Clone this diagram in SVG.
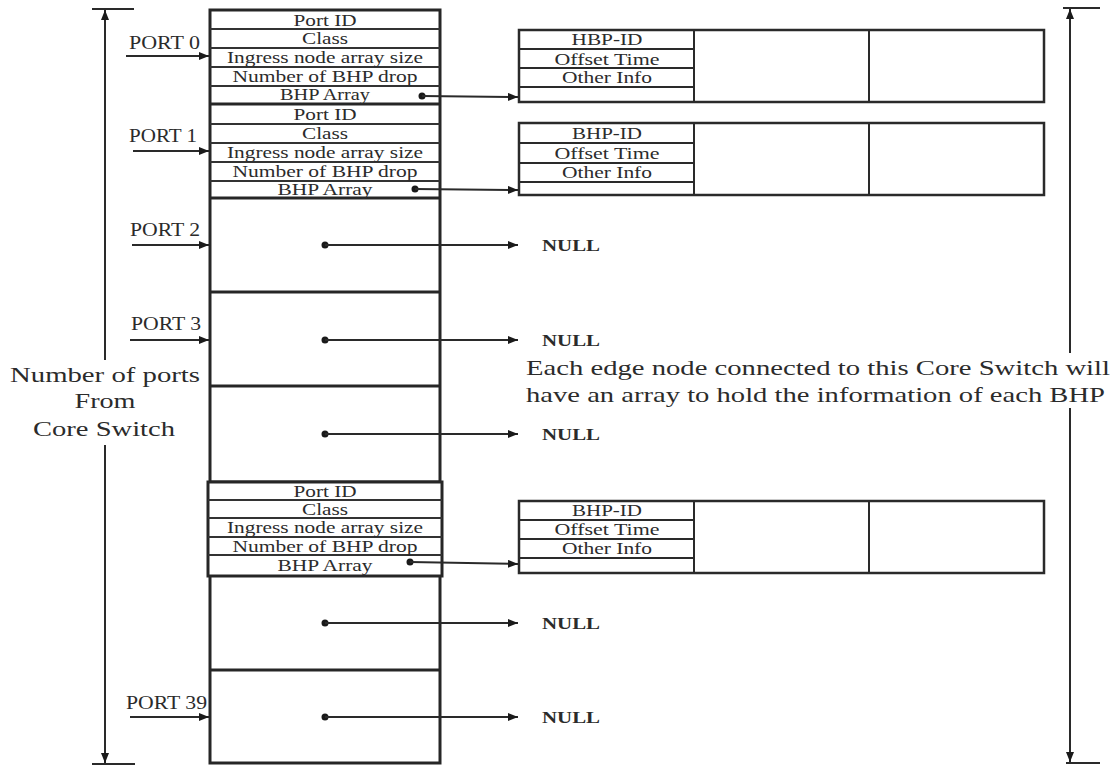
<svg xmlns="http://www.w3.org/2000/svg" width="1116" height="766" viewBox="0 0 1116 766">
<style>
.bg{fill:#ffffff}
.box{fill:#ffffff;stroke:#262626;stroke-width:3}
.rbox{fill:#ffffff;stroke:#2a2a2a;stroke-width:2.5}
.thick{stroke:#262626;stroke-width:3;fill:none}
.thin{stroke:#333333;stroke-width:1.8;fill:none}
.ln{stroke:#2a2a2a;stroke-width:2;fill:none}
.t{font-family:"Liberation Serif","Times New Roman",serif;fill:#2b2b2b}
.cell{font-size:17px;text-anchor:middle}
.port{font-size:18px}
.null{font-size:17px;font-weight:bold}
.big{font-size:22px}
.dot{fill:#1a1a1a}
</style>
<defs>
<marker id="ah" viewBox="0 0 10 8" refX="10" refY="4" markerWidth="10" markerHeight="8" orient="auto-start-reverse" markerUnits="userSpaceOnUse">
<path d="M0,0 L10,4 L0,8 z" fill="#1a1a1a"/>
</marker>
</defs>
<rect class="bg" x="0" y="0" width="1116" height="766"/>

<g id="port-table">
<rect class="box" x="210" y="10" width="230" height="753"/>
</g>

<g id="port0">
<line class="thin" x1="210" y1="29" x2="440" y2="29"/>
<line class="thin" x1="210" y1="48" x2="440" y2="48"/>
<line class="thin" x1="210" y1="67" x2="440" y2="67"/>
<line class="thin" x1="210" y1="86" x2="440" y2="86"/>
<line class="thick" x1="210" y1="104" x2="440" y2="104"/>
<text class="t cell" x="325" y="25.5" textLength="63" lengthAdjust="spacingAndGlyphs">Port ID</text>
<text class="t cell" x="325" y="44" textLength="46" lengthAdjust="spacingAndGlyphs">Class</text>
<text class="t cell" x="325" y="63" textLength="196" lengthAdjust="spacingAndGlyphs">Ingress node array size</text>
<text class="t cell" x="325" y="82" textLength="185" lengthAdjust="spacingAndGlyphs">Number of BHP drop</text>
<text class="t cell" x="325" y="100" textLength="90" lengthAdjust="spacingAndGlyphs">BHP Array</text>
<circle class="dot" cx="422" cy="96" r="3.5"/>
</g>

<g id="port1">
<line class="thin" x1="210" y1="124" x2="440" y2="124"/>
<line class="thin" x1="210" y1="143" x2="440" y2="143"/>
<line class="thin" x1="210" y1="162" x2="440" y2="162"/>
<line class="thin" x1="210" y1="181" x2="440" y2="181"/>
<line class="thick" x1="210" y1="198" x2="440" y2="198"/>
<text class="t cell" x="325" y="120" textLength="63" lengthAdjust="spacingAndGlyphs">Port ID</text>
<text class="t cell" x="325" y="139" textLength="46" lengthAdjust="spacingAndGlyphs">Class</text>
<text class="t cell" x="325" y="158" textLength="196" lengthAdjust="spacingAndGlyphs">Ingress node array size</text>
<text class="t cell" x="325" y="177" textLength="185" lengthAdjust="spacingAndGlyphs">Number of BHP drop</text>
<text class="t cell" x="325" y="195" textLength="95" lengthAdjust="spacingAndGlyphs">BHP Array</text>
<circle class="dot" cx="415" cy="189" r="3.5"/>
</g>

<g id="port2">
<line class="thick" x1="210" y1="292" x2="440" y2="292"/>
<circle class="dot" cx="325" cy="245" r="3.5"/>
</g>

<g id="port3">
<line class="thick" x1="210" y1="386" x2="440" y2="386"/>
<circle class="dot" cx="325" cy="340" r="3.5"/>
</g>

<g id="port4">
<line class="thick" x1="210" y1="482" x2="440" y2="482"/>
<circle class="dot" cx="325" cy="434" r="3.5"/>
</g>

<g id="port5">
<rect class="box" x="208" y="482" width="234" height="94"/>
<line class="thin" x1="208" y1="500" x2="442" y2="500"/>
<line class="thin" x1="208" y1="518" x2="442" y2="518"/>
<line class="thin" x1="208" y1="537" x2="442" y2="537"/>
<line class="thin" x1="208" y1="555" x2="442" y2="555"/>
<text class="t cell" x="325" y="497" textLength="63" lengthAdjust="spacingAndGlyphs">Port ID</text>
<text class="t cell" x="325" y="515" textLength="46" lengthAdjust="spacingAndGlyphs">Class</text>
<text class="t cell" x="325" y="533" textLength="196" lengthAdjust="spacingAndGlyphs">Ingress node array size</text>
<text class="t cell" x="325" y="552" textLength="185" lengthAdjust="spacingAndGlyphs">Number of BHP drop</text>
<text class="t cell" x="325" y="571" textLength="95" lengthAdjust="spacingAndGlyphs">BHP Array</text>
<circle class="dot" cx="410" cy="562" r="3.5"/>
</g>

<g id="port6">
<line class="thick" x1="210" y1="670" x2="440" y2="670"/>
<circle class="dot" cx="325" cy="623" r="3.5"/>
</g>

<g id="port39">
<circle class="dot" cx="325" cy="717" r="3.5"/>
</g>

<g id="bhp-array-0">
<rect class="rbox" x="519" y="30" width="525" height="72"/>
<line class="ln" x1="694" y1="30" x2="694" y2="102"/>
<line class="ln" x1="869" y1="30" x2="869" y2="102"/>
<line class="ln" x1="519" y1="49" x2="694" y2="49"/>
<line class="ln" x1="519" y1="68" x2="694" y2="68"/>
<line class="ln" x1="519" y1="87" x2="694" y2="87"/>
<text class="t cell" x="607" y="45" textLength="71" lengthAdjust="spacingAndGlyphs">HBP-ID</text>
<text class="t cell" x="607" y="64.5" textLength="105" lengthAdjust="spacingAndGlyphs">Offset Time</text>
<text class="t cell" x="607" y="83" textLength="90" lengthAdjust="spacingAndGlyphs">Other Info</text>
</g>

<g id="bhp-array-1">
<rect class="rbox" x="519" y="123" width="525" height="72"/>
<line class="ln" x1="694" y1="123" x2="694" y2="195"/>
<line class="ln" x1="869" y1="123" x2="869" y2="195"/>
<line class="ln" x1="519" y1="143" x2="694" y2="143"/>
<line class="ln" x1="519" y1="163" x2="694" y2="163"/>
<line class="ln" x1="519" y1="182" x2="694" y2="182"/>
<text class="t cell" x="607" y="139" textLength="70" lengthAdjust="spacingAndGlyphs">BHP-ID</text>
<text class="t cell" x="607" y="159" textLength="105" lengthAdjust="spacingAndGlyphs">Offset Time</text>
<text class="t cell" x="607" y="177.5" textLength="90" lengthAdjust="spacingAndGlyphs">Other Info</text>
</g>

<g id="bhp-array-2">
<rect class="rbox" x="519" y="501" width="525" height="72"/>
<line class="ln" x1="694" y1="501" x2="694" y2="573"/>
<line class="ln" x1="869" y1="501" x2="869" y2="573"/>
<line class="ln" x1="519" y1="520" x2="694" y2="520"/>
<line class="ln" x1="519" y1="539" x2="694" y2="539"/>
<line class="ln" x1="519" y1="558" x2="694" y2="558"/>
<text class="t cell" x="607" y="516" textLength="70" lengthAdjust="spacingAndGlyphs">BHP-ID</text>
<text class="t cell" x="607" y="535" textLength="105" lengthAdjust="spacingAndGlyphs">Offset Time</text>
<text class="t cell" x="607" y="554" textLength="90" lengthAdjust="spacingAndGlyphs">Other Info</text>
</g>

<g id="null-labels">
<text class="t null" x="542" y="251" textLength="58" lengthAdjust="spacingAndGlyphs">NULL</text>
<text class="t null" x="542" y="346" textLength="58" lengthAdjust="spacingAndGlyphs">NULL</text>
<text class="t null" x="542" y="440" textLength="58" lengthAdjust="spacingAndGlyphs">NULL</text>
<text class="t null" x="542" y="629" textLength="58" lengthAdjust="spacingAndGlyphs">NULL</text>
<text class="t null" x="542" y="723" textLength="58" lengthAdjust="spacingAndGlyphs">NULL</text>
</g>

<g id="port-labels">
<text class="t port" x="129" y="49" textLength="71" lengthAdjust="spacingAndGlyphs">PORT 0</text>
<text class="t port" x="129" y="142" textLength="68" lengthAdjust="spacingAndGlyphs">PORT 1</text>
<text class="t port" x="130" y="236" textLength="70" lengthAdjust="spacingAndGlyphs">PORT 2</text>
<text class="t port" x="131" y="330" textLength="70" lengthAdjust="spacingAndGlyphs">PORT 3</text>
<text class="t port" x="126" y="709" textLength="81" lengthAdjust="spacingAndGlyphs">PORT 39</text>
</g>

<g id="ports-dimension-label">
<text class="t big" x="105" y="382" text-anchor="middle" textLength="190" lengthAdjust="spacingAndGlyphs">Number of ports</text>
<text class="t big" x="105" y="408" text-anchor="middle" textLength="61" lengthAdjust="spacingAndGlyphs">From</text>
<text class="t big" x="104" y="436" text-anchor="middle" textLength="142" lengthAdjust="spacingAndGlyphs">Core Switch</text>
</g>

<g id="edge-node-label">
<text class="t big" x="526" y="375" textLength="584" lengthAdjust="spacingAndGlyphs">Each edge node connected to this Core Switch will</text>
<text class="t big" x="526" y="402" textLength="579" lengthAdjust="spacingAndGlyphs">have an array to hold the information of each BHP</text>
</g>

<g id="connectors">
<line class="ln" x1="126" y1="56" x2="209" y2="56" marker-end="url(#ah)"/>
<line class="ln" x1="133" y1="151" x2="209" y2="151" marker-end="url(#ah)"/>
<line class="ln" x1="132" y1="245" x2="209" y2="245" marker-end="url(#ah)"/>
<line class="ln" x1="130" y1="340" x2="209" y2="340" marker-end="url(#ah)"/>
<line class="ln" x1="130" y1="717" x2="209" y2="717" marker-end="url(#ah)"/>

<line class="ln" x1="422" y1="96" x2="518" y2="97" marker-end="url(#ah)"/>
<line class="ln" x1="415" y1="189" x2="518" y2="190" marker-end="url(#ah)"/>
<line class="ln" x1="410" y1="562" x2="518" y2="564" marker-end="url(#ah)"/>

<line class="ln" x1="325" y1="245" x2="518" y2="245" marker-end="url(#ah)"/>
<line class="ln" x1="325" y1="340" x2="518" y2="340" marker-end="url(#ah)"/>
<line class="ln" x1="325" y1="434" x2="518" y2="434" marker-end="url(#ah)"/>
<line class="ln" x1="325" y1="623" x2="518" y2="623" marker-end="url(#ah)"/>
<line class="ln" x1="325" y1="717" x2="518" y2="717" marker-end="url(#ah)"/>

<line class="ln" x1="92" y1="9" x2="134" y2="9"/>
<line class="ln" x1="105" y1="10" x2="105" y2="360" marker-start="url(#ah)"/>
<line class="ln" x1="105" y1="445" x2="105" y2="763" marker-end="url(#ah)"/>
<line class="ln" x1="92" y1="764" x2="135" y2="764"/>

<line class="ln" x1="1063" y1="8" x2="1100" y2="8"/>
<line class="ln" x1="1070" y1="9" x2="1070" y2="353" marker-start="url(#ah)"/>
<line class="ln" x1="1070" y1="408" x2="1070" y2="762" marker-end="url(#ah)"/>
<line class="ln" x1="1066" y1="763" x2="1100" y2="763"/>
</g>
</svg>
